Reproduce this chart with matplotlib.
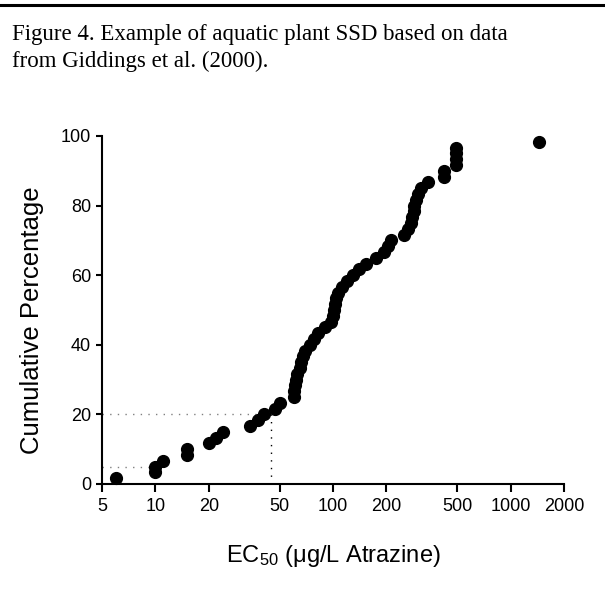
import matplotlib
matplotlib.use("Agg")
import matplotlib.pyplot as plt
import numpy as np

plt.rcParams['font.family'] = ['Liberation Sans', 'DejaVu Sans']
plt.rcParams['mathtext.fontset'] = 'custom'
plt.rcParams['mathtext.rm'] = 'Liberation Sans'
plt.rcParams['mathtext.default'] = 'regular'

# EC50 de cada especie (ug/L de atrazina), ordenados
ec50 = [6, 10, 10, 11, 15, 15, 20, 22, 24, 34,
        38, 41, 47, 50, 60, 60, 61, 62, 63, 65,
        66, 68, 70, 74, 78, 82, 90, 98, 100, 101,
        102, 104, 107, 112, 120, 129, 140, 153, 174, 195,
        205, 212, 250, 265, 275, 280, 285, 287, 292, 300,
        315, 345, 420, 420, 490, 490, 490, 490, 1450]
# porcentaje acumulado: rango / (n + 1)
n = len(ec50)
pct = [100.0 * (i + 1) / (n + 1) for i in range(n)]

hc5 = 10
hc20 = 45
xticks = [5, 10, 20, 50, 100, 200, 500, 1000, 2000]
yticks = [0, 20, 40, 60, 80, 100]

fig = plt.figure(figsize=(6.05, 5.92), dpi=100)

# linea superior y leyenda de la figura
fig.add_artist(plt.Line2D([0, 1], [0.991, 0.991], color='black', lw=2.2))
fig.text(12 / 605, 1 - 40 / 592, "Figure 4. Example of aquatic plant SSD based on data",
         family='Liberation Serif', fontsize=16.5, va='baseline', ha='left')
fig.text(12 / 605, 1 - 67 / 592, "from Giddings et al. (2000).",
         family='Liberation Serif', fontsize=16.5, va='baseline', ha='left')

ax = fig.add_axes([102 / 605, 108 / 592, 462 / 605, 348 / 592])
ax.set_xscale('log')
ax.set_xlim(5, 2000)
ax.set_ylim(0, 100)

# lineas de referencia HC5 y HC20
ax.plot([5, hc5 * 0.93], [5, 5], color='gray', lw=1, ls=(0, (1, 4.5)))
ax.plot([5, hc20], [20, 20], color='gray', lw=1, ls=(0, (1, 4.5)))
ax.plot([hc20, hc20], [0, 20], color='black', lw=1, ls=(0, (1, 4.5)))

ax.scatter(ec50, pct, s=72, color='black', zorder=3, clip_on=False)

ax.set_xticks(xticks)
ax.set_xticklabels([str(t) for t in xticks])
ax.xaxis.set_minor_locator(matplotlib.ticker.NullLocator())
ax.set_yticks(yticks)
for s in ['top', 'right']:
    ax.spines[s].set_visible(False)
for s in ['left', 'bottom']:
    ax.spines[s].set_linewidth(1.5)
ax.tick_params(axis='x', direction='out', length=6, width=1.5, labelsize=13, pad=4)
ax.tick_params(axis='y', direction='out', length=4, width=1.5, labelsize=13, pad=4)

fig.text(333 / 605, 1 - 562 / 592, r"EC$_{50}$ (μg/L Atrazine)", fontsize=17,
         ha='center', va='baseline')
fig.text(32 / 605, 1 - 320 / 592, "Cumulative Percentage", fontsize=18.5,
         ha='center', va='center', rotation=90)

fig.savefig("out.png", dpi=100)
